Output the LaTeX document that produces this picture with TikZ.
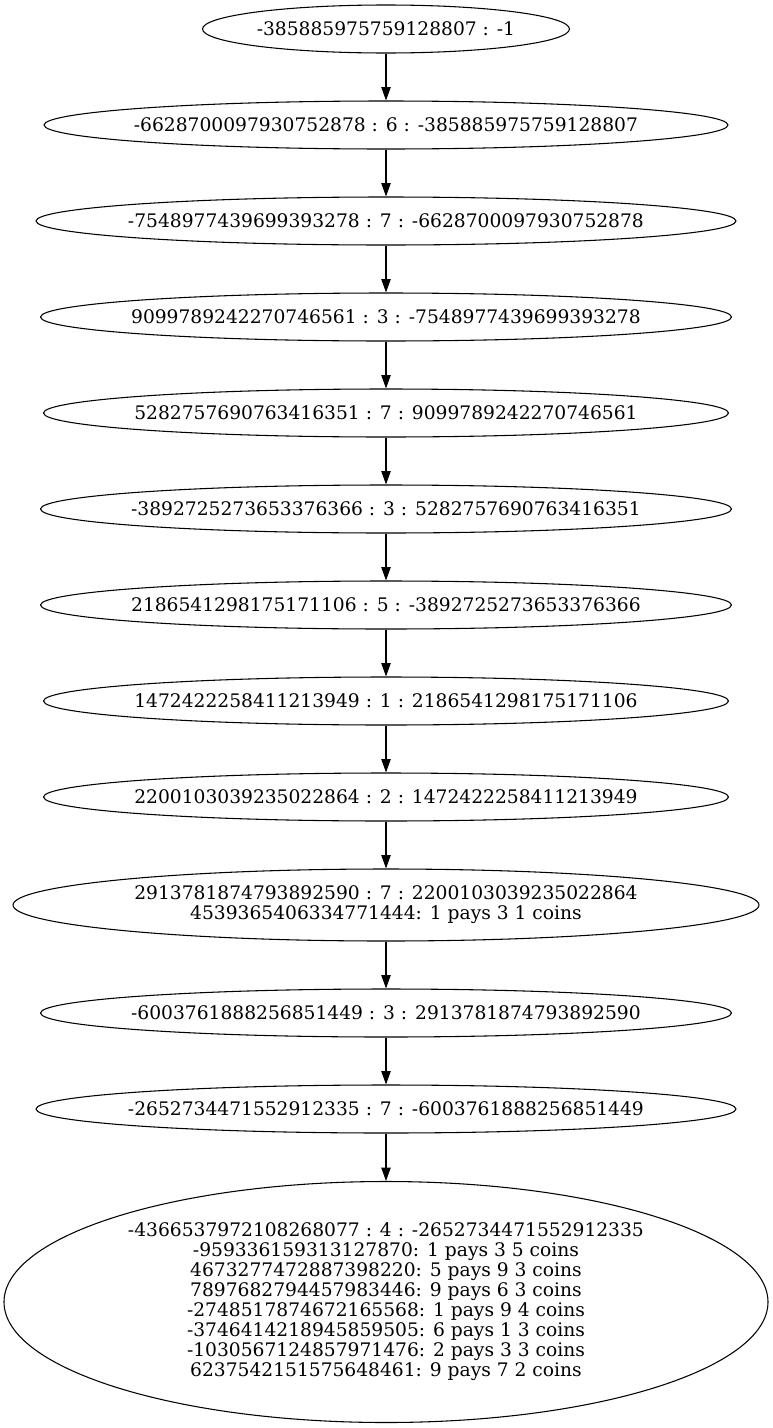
\documentclass[tikz,border=0pt]{standalone}
\usepackage{fontspec}
\setmainfont{DejaVu Serif}
\usetikzlibrary{shapes.geometric,arrows.meta}
\newcommand\gtxt[1]{\makebox[0pt][c]{#1}}
\newcommand\gml[1]{\makebox[0pt][c]{\begin{tabular}{@{}c@{}}#1\end{tabular}}}
\tikzset{
  gnode/.style={draw, ellipse, inner sep=0pt, line width=0.8pt,
    minimum height=36pt, font=\fontsize{14}{15}\selectfont},
  gedge/.style={-{Triangle[length=10pt,width=7pt]}, line width=0.8pt}
}
\begin{document}
\begin{tikzpicture}[x=0.75pt,y=-0.75pt]
\useasboundingbox (0,0) rectangle (772,1428);
\node[gnode, minimum width=275.25pt] (n1) at (386,29) {\gtxt{-385885975759128807 : -1}};
\node[gnode, minimum width=513pt] (n2) at (386,125) {\gtxt{-6628700097930752878 : 6 : -385885975759128807}};
\node[gnode, minimum width=525pt] (n3) at (386,221) {\gtxt{-7548977439699393278 : 7 : -6628700097930752878}};
\node[gnode, minimum width=518.25pt] (n4) at (386,317) {\gtxt{9099789242270746561 : 3 : -7548977439699393278}};
\node[gnode, minimum width=513.75pt] (n5) at (386,413) {\gtxt{5282757690763416351 : 7 : 9099789242270746561}};
\node[gnode, minimum width=518.25pt] (n6) at (386,509) {\gtxt{-3892725273653376366 : 3 : 5282757690763416351}};
\node[gnode, minimum width=518.25pt] (n7) at (386,605) {\gtxt{2186541298175171106 : 5 : -3892725273653376366}};
\node[gnode, minimum width=513.75pt] (n8) at (386,701) {\gtxt{1472422258411213949 : 1 : 2186541298175171106}};
\node[gnode, minimum width=513.75pt] (n9) at (386,797) {\gtxt{2200103039235022864 : 2 : 1472422258411213949}};
\node[gnode, minimum width=559.5pt, minimum height=54pt] (n10) at (386,905) {\gml{2913781874793892590 : 7 : 2200103039235022864\\4539365406334771444: 1 pays 3 1 coins}};
\node[gnode, minimum width=518.25pt] (n11) at (386,1013) {\gtxt{-6003761888256851449 : 3 : 2913781874793892590}};
\node[gnode, minimum width=525pt] (n12) at (386,1109) {\gtxt{-2652734471552912335 : 7 : -6003761888256851449}};
\node[gnode, minimum width=573pt, minimum height=180.75pt] (n13) at (386,1302) {\raisebox{2pt}{\gml{-4366537972108268077 : 4 : -2652734471552912335\\-959336159313127870: 1 pays 3 5 coins\\4673277472887398220: 5 pays 9 3 coins\\7897682794457983446: 9 pays 6 3 coins\\-2748517874672165568: 1 pays 9 4 coins\\-3746414218945859505: 6 pays 1 3 coins\\-1030567124857971476: 2 pays 3 3 coins\\6237542151575648461: 9 pays 7 2 coins}}};
\draw[gedge] (n1) -- (n2);
\draw[gedge] (n2) -- (n3);
\draw[gedge] (n3) -- (n4);
\draw[gedge] (n4) -- (n5);
\draw[gedge] (n5) -- (n6);
\draw[gedge] (n6) -- (n7);
\draw[gedge] (n7) -- (n8);
\draw[gedge] (n8) -- (n9);
\draw[gedge] (n9) -- (n10);
\draw[gedge] (n10) -- (n11);
\draw[gedge] (n11) -- (n12);
\draw[gedge] (n12) -- (n13);
\end{tikzpicture}
\end{document}
